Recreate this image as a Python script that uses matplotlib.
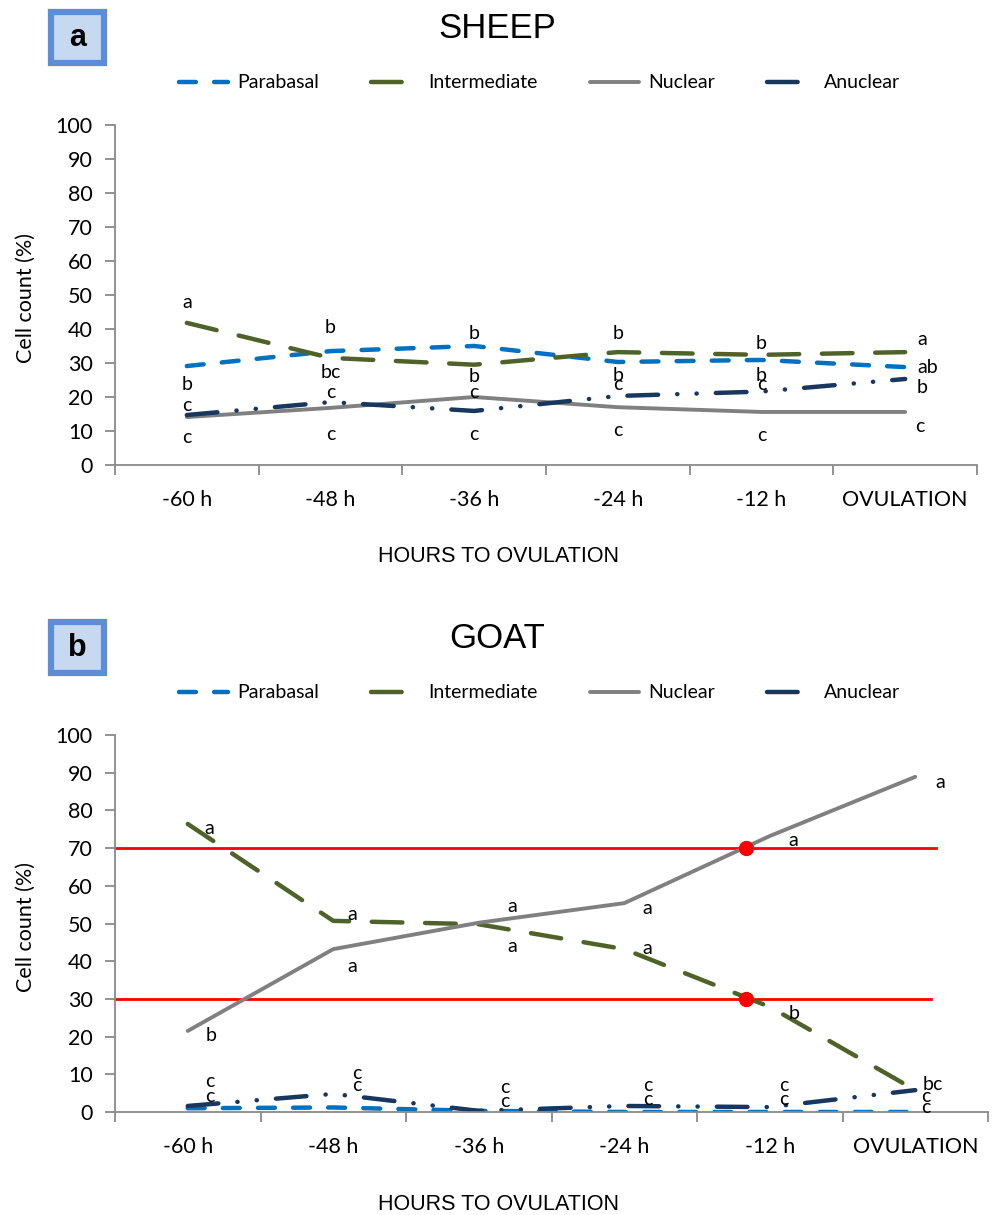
import matplotlib
matplotlib.use("Agg")
import matplotlib.pyplot as plt
from matplotlib.patches import Rectangle

# ---- data -------------------------------------------------------------
hours = ["-60 h", "-48 h", "-36 h", "-24 h", "-12 h", "OVULATION"]
series_names = ["Parabasal", "Intermediate", "Nuclear", "Anuclear"]

sheep_parabasal = [29.1, 33.5, 35.0, 30.3, 30.9, 28.8]
sheep_intermediate = [41.8, 31.5, 29.5, 33.2, 32.4, 33.2]
sheep_nuclear = [14.1, 16.8, 20.0, 17.0, 15.6, 15.6]
sheep_anuclear = [14.7, 18.5, 15.9, 20.3, 21.6, 25.3]

goat_parabasal = [1.0, 1.2, 0.3, 0.0, 0.0, 0.0]
goat_intermediate = [76.4, 50.7, 49.8, 43.2, 27.9, 5.8]
goat_nuclear = [21.5, 43.2, 50.2, 55.4, 73.2, 88.9]
goat_anuclear = [1.6, 4.8, 0.3, 1.6, 1.3, 5.8]

goat_thresholds = [70, 30]
goat_crossing_x = 3.84   # between -24 h and -12 h

# significance letters: (category position, y, letter)
sheep_letters = [
    (0.00, 47.9, "a"), (0.00, 23.8, "b"), (0.00, 17.4, "c"), (0.00, 8.2, "c"),
    (1.00, 40.3, "b"), (1.00, 27.1, "bc"), (1.00, 21.2, "c"), (1.00, 9.1, "c"),
    (2.00, 38.8, "b"), (2.00, 25.9, "b"), (2.00, 21.2, "c"), (2.00, 9.1, "c"),
    (3.00, 38.8, "b"), (3.00, 26.2, "b"), (3.00, 23.8, "c"), (3.00, 10.0, "c"),
    (4.00, 35.6, "b"), (4.00, 26.2, "b"), (4.00, 23.8, "c"), (4.00, 8.8, "c"),
    (5.12, 36.8, "a"), (5.16, 28.8, "ab"), (5.12, 22.9, "b"), (5.10, 11.2, "c"),
]
goat_letters = [
    (0.15, 75.1, "a"), (0.16, 20.2, "b"), (0.15, 8.0, "c"), (0.15, 4.2, "c"),
    (1.13, 52.5, "a"), (1.13, 38.5, "a"), (1.16, 10.3, "c"), (1.16, 6.9, "c"),
    (2.23, 54.4, "a"), (2.23, 43.8, "a"), (2.18, 6.4, "c"), (2.18, 2.7, "c"),
    (3.16, 54.1, "a"), (3.16, 43.5, "a"), (3.16, 6.9, "c"), (3.16, 3.4, "c"),
    (4.16, 71.9, "a"), (4.17, 26.0, "b"), (4.10, 6.9, "c"), (4.10, 3.4, "c"),
    (5.17, 87.5, "a"), (5.12, 7.2, "bc"), (5.07, 4.0, "c"), (5.07, 1.1, "c"),
]

# ---- styling ------------------------------------------------------------
W, H = 992, 1215
SANS = ["Lato", "DejaVu Sans"]
ARIAL = ["Liberation Sans", "DejaVu Sans"]
AXIS_GREY = "#898989"

styles = {
    "Parabasal": dict(color="#0070C0", lw=3.2, dashes=(3.8, 4.1)),
    "Intermediate": dict(color="#4F6228", lw=3.2, dashes=(6.9, 5.1)),
    "Nuclear": dict(color="#808080", lw=2.8, dashes=None),
    "Anuclear": dict(color="#17375E", lw=3.2,
                     dashes=(6.9, 4.3, 0.05, 4.3, 0.05, 4.3)),
}


def fx(px):
    return px / W


def fy(py):
    return 1 - py / H


fig = plt.figure(figsize=(W / 100, H / 100), dpi=100)


def draw_panel(top_px, left_px, right_px, bottom_px, values, letters, title, tag):
    ax = fig.add_axes([fx(left_px), fy(bottom_px),
                       (right_px - left_px) / W, (bottom_px - top_px) / H])
    x = list(range(len(hours)))
    handles = []
    for name, vals in zip(series_names, values):
        st = styles[name]
        kw = dict(color=st["color"], lw=st["lw"], solid_capstyle="round",
                  dash_capstyle="round", label=name)
        if st["dashes"] is not None:
            kw["dashes"] = st["dashes"]
        (ln,) = ax.plot(x, vals, **kw)
        handles.append(ln)

    for xp, yp, txt in letters:
        ax.text(xp, yp, txt, ha="center", va="center", fontsize=14,
                family=SANS, color="black")

    ax.set_xlim(-0.5, len(hours) - 0.5)
    ax.set_ylim(0, 100)
    ax.set_yticks(range(0, 101, 10))
    ax.set_xticks(x)
    ax.set_xticklabels(hours)
    ax.set_xticks([i - 0.5 for i in range(len(hours) + 1)], minor=True)
    ax.tick_params(axis="x", which="major", length=0, pad=18)
    ax.tick_params(axis="x", which="minor", length=7, width=1.3,
                   color=AXIS_GREY, direction="out")
    ax.tick_params(axis="y", length=7, width=1.3, color=AXIS_GREY,
                   direction="out", pad=9)
    for lab in ax.get_xticklabels() + ax.get_yticklabels():
        lab.set_fontfamily(SANS)
        lab.set_fontsize(15.5)
    for side in ("top", "right"):
        ax.spines[side].set_visible(False)
    for side in ("left", "bottom"):
        ax.spines[side].set_color(AXIS_GREY)
        ax.spines[side].set_linewidth(1.3)
    ax.set_ylabel("Cell count (%)", fontsize=15.5, family=SANS)
    ax.yaxis.set_label_coords((36 - left_px) / (right_px - left_px), 0.49)

    # title, panel tag and legend
    fig.text(fx(497), fy(top_px - 97), title, ha="center", va="center",
             fontsize=25, family=ARIAL)
    fig.text(fx(77.5), fy(top_px - 87.5), tag, ha="center", va="center",
             fontsize=22, fontweight="bold", family=ARIAL)
    fig.add_artist(Rectangle((fx(51), fy(top_px - 62)), 53 / W, 51 / H,
                             transform=fig.transFigure, facecolor="#C6D9F1",
                             edgecolor="#5B8ED6", lw=4.5))
    fig.legend(handles=handles, loc="center", ncol=4, frameon=False,
               bbox_to_anchor=(fx(540), fy(top_px - 42)),
               prop=dict(family=SANS, size=14), handlelength=2.5,
               handletextpad=0.45, columnspacing=2.7)
    fig.text(fx(498), fy(bottom_px + 92), "HOURS TO OVULATION", ha="center",
             va="center", fontsize=15.5, family=ARIAL)
    return ax


draw_panel(125, 115, 977, 465,
           [sheep_parabasal, sheep_intermediate, sheep_nuclear, sheep_anuclear],
           sheep_letters, "SHEEP", "a")

axb = draw_panel(735, 115, 988, 1112,
                 [goat_parabasal, goat_intermediate, goat_nuclear, goat_anuclear],
                 goat_letters, "GOAT", "b")

# 70 % and 30 % reference levels with their crossing points
for level, x_end in zip(goat_thresholds, [5.14, 5.11]):
    axb.plot([-0.5, x_end], [level, level], color="#FF0000", lw=2.0,
             zorder=1, clip_on=False)
axb.plot([goat_crossing_x] * len(goat_thresholds), goat_thresholds, "o",
         color="#FF0000", ms=10, zorder=5, clip_on=False)

fig.savefig("out.png", dpi=100)
